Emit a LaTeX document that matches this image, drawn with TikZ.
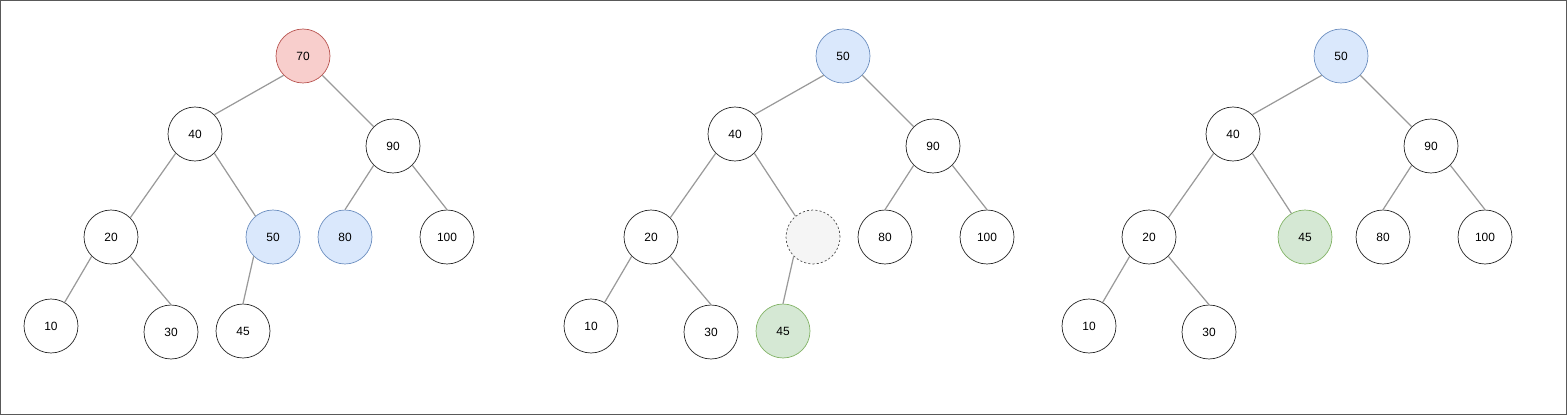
\documentclass[tikz,border=0pt]{standalone}
\usepackage{fontspec}
\setmainfont{Liberation Sans}

\definecolor{edgegray}{HTML}{9A9A9A}
\definecolor{redfill}{HTML}{F8CECC}
\definecolor{redline}{HTML}{B85450}
\definecolor{bluefill}{HTML}{DAE8FC}
\definecolor{blueline}{HTML}{6C8EBF}
\definecolor{greenfill}{HTML}{D5E8D4}
\definecolor{greenline}{HTML}{82B366}
\definecolor{holefill}{HTML}{F5F5F5}

\tikzset{
    key/.style={circle, draw=black!85, fill=white, minimum size=1.08cm, inner sep=0pt,
        font=\fontsize{6.8}{8}\selectfont},
    rootkey/.style={key, draw=redline, fill=redfill},
    movedkey/.style={key, draw=blueline, fill=bluefill},
    newkey/.style={key, draw=greenline, fill=greenfill},
    holekey/.style={key, draw=black!70, fill=holefill, dash pattern=on 1.2pt off 1.2pt},
    link/.style={draw=edgegray, line width=0.7pt}
}

\begin{document}
\begin{tikzpicture}[x=0.02cm, y=-0.02cm]

        \useasboundingbox (0,0) rectangle (1567,415);
        \draw[black!65, line width=0.6pt] (0.5,0.5) rectangle (1566.5,414.5);

        % before
        \node[rootkey]  (a70)  at (303,56)  {70};
        \node[key]      (a40)  at (195,134) {40};
        \node[key]      (a90)  at (393,146) {90};
        \node[key]      (a20)  at (111,237) {20};
        \node[movedkey] (a50)  at (273,237) {50};
        \node[movedkey] (a80)  at (345,237) {80};
        \node[key]      (a100) at (447,237) {100};
        \node[key]      (a10)  at (51,326)  {10};
        \node[key]      (a30)  at (171,332) {30};
        \node[key]      (a45)  at (243,331) {45};

        \draw[link] (a70.south west) -- (a40.north east);
        \draw[link] (a70.south east) -- (a90.north west);
        \draw[link] (a40.south west) -- (a20.north east);
        \draw[link] (a40.south east) -- (a50.130);
        \draw[link] (a90.south west) -- (a80.north);
        \draw[link] (a90.south east) -- (a100.north);
        \draw[link] (a20.south west) -- (a10.60);
        \draw[link] (a20.south east) -- (a30.north);
        \draw[link] (a50.south west) -- (a45.north);

        % root replaced
        \node[movedkey] (b50)  at (843,56)  {50};
        \node[key]      (b40)  at (735,134) {40};
        \node[key]      (b90)  at (933,146) {90};
        \node[key]      (b20)  at (651,237) {20};
        \node[holekey]  (bgap) at (813,237) {};
        \node[key]      (b80)  at (885,237) {80};
        \node[key]      (b100) at (987,237) {100};
        \node[key]      (b10)  at (591,326) {10};
        \node[key]      (b30)  at (711,332) {30};
        \node[newkey]   (b45)  at (783,331) {45};

        \draw[link] (b50.south west) -- (b40.north east);
        \draw[link] (b50.south east) -- (b90.north west);
        \draw[link] (b40.south west) -- (b20.north east);
        \draw[link] (b40.south east) -- (bgap.130);
        \draw[link] (b90.south west) -- (b80.north);
        \draw[link] (b90.south east) -- (b100.north);
        \draw[link] (b20.south west) -- (b10.60);
        \draw[link] (b20.south east) -- (b30.north);
        \draw[link] (bgap.south west) -- (b45.north);

        % after
        \node[movedkey] (c50)  at (1341,56)  {50};
        \node[key]      (c40)  at (1233,134) {40};
        \node[key]      (c90)  at (1431,146) {90};
        \node[key]      (c20)  at (1149,237) {20};
        \node[newkey]   (c45)  at (1305,237) {45};
        \node[key]      (c80)  at (1383,237) {80};
        \node[key]      (c100) at (1485,237) {100};
        \node[key]      (c10)  at (1089,326) {10};
        \node[key]      (c30)  at (1209,332) {30};

        \draw[link] (c50.south west) -- (c40.north east);
        \draw[link] (c50.south east) -- (c90.north west);
        \draw[link] (c40.south west) -- (c20.north east);
        \draw[link] (c40.south east) -- (c45.120);
        \draw[link] (c90.south west) -- (c80.north);
        \draw[link] (c90.south east) -- (c100.north);
        \draw[link] (c20.south west) -- (c10.60);
        \draw[link] (c20.south east) -- (c30.north);

    \end{tikzpicture}
\end{document}
